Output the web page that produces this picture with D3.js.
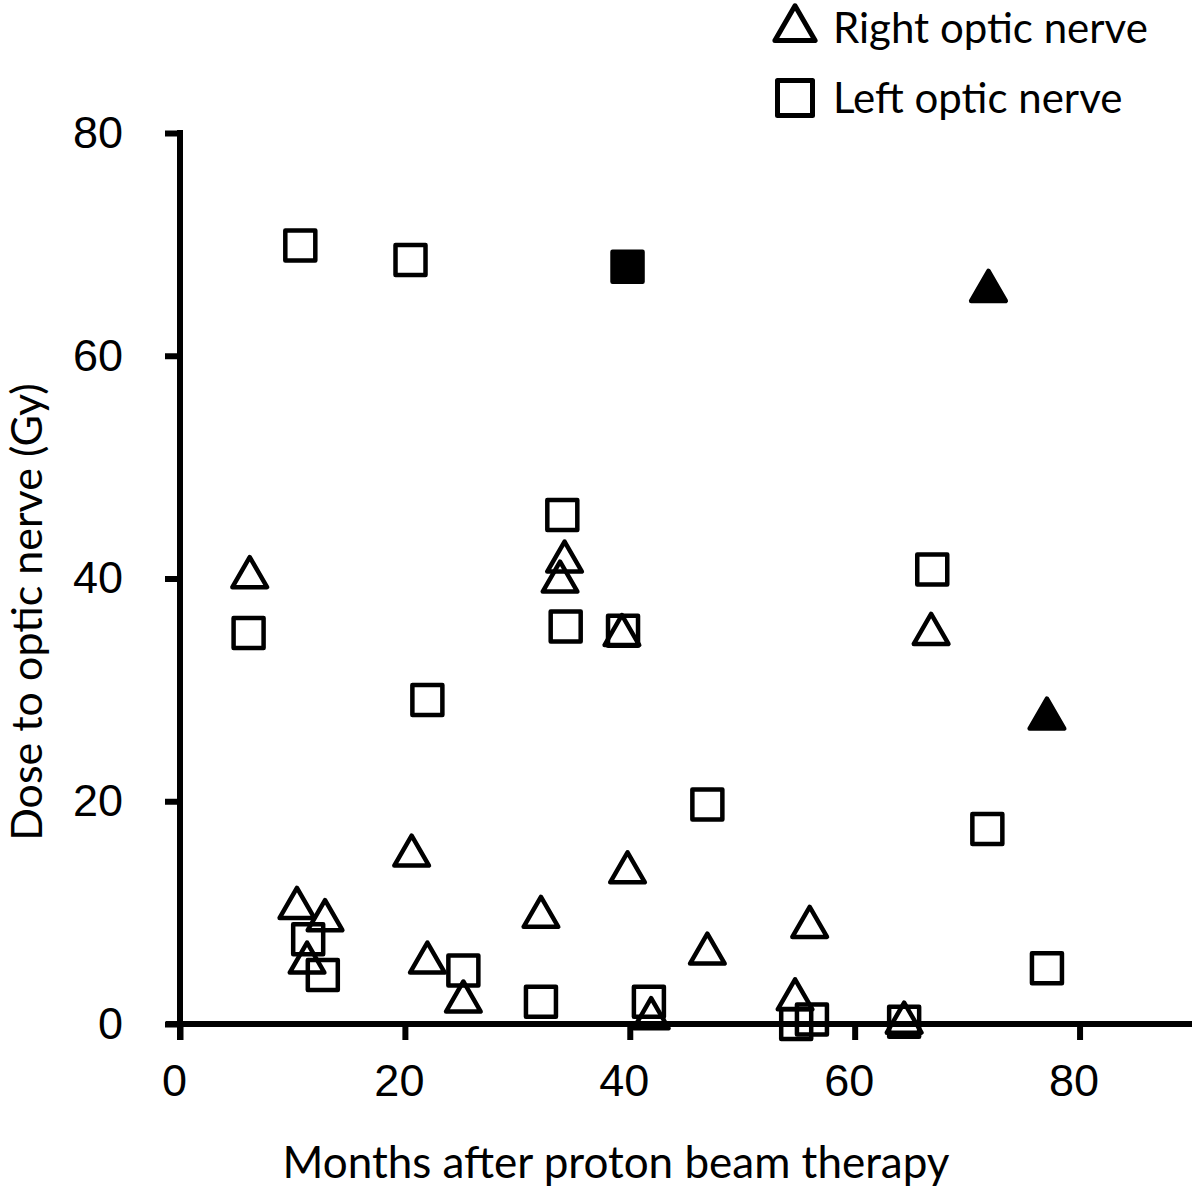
<!DOCTYPE html>
<html>
<head>
<meta charset="utf-8">
<script src="https://cdn.jsdelivr.net/npm/d3@7"></script>
<style>
  body { margin: 0; background: #fff; }
  text { fill: #000; }
</style>
</head>
<body>
<div id="chart"></div>
<script>
// right optic nerve: [months, dose]
const rightNerve = [
  [6.2, 40.3], [10.4, 10.6], [12.9, 9.5], [11.3, 5.7], [20.6, 15.3],
  [22.0, 5.7], [25.2, 2.2], [32.1, 9.8], [34.2, 41.7], [33.8, 39.9],
  [39.3, 35.1], [39.8, 13.8], [41.9, 0.7], [46.9, 6.5], [56.0, 8.9],
  [54.7, 2.4], [64.4, 0.3], [66.8, 35.2]
];
const rightFilled = [[71.9, 66.0], [77.1, 27.6]];

// left optic nerve
const leftNerve = [
  [10.7, 69.9], [20.5, 68.6], [6.1, 35.1], [22.0, 29.1], [34.0, 45.7],
  [34.3, 35.7], [39.4, 35.3], [46.9, 19.7], [66.9, 40.8], [71.8, 17.5],
  [77.1, 5.0], [11.4, 7.6], [12.7, 4.4], [25.2, 4.8], [32.1, 2.0],
  [41.7, 2.0], [54.8, 0.0], [56.2, 0.4], [64.4, 0.2]
];
const leftFilled = [[39.8, 68.0]];

const xTicks = [0, 20, 40, 60, 80];
const yTicks = [0, 20, 40, 60, 80];

const W = 1200, H = 1194;
const svg = d3.select('#chart').append('svg').attr('width', W).attr('height', H);

const x = d3.scaleLinear().domain([0, 90]).range([180, 1192]);
const y = d3.scaleLinear().domain([0, 80]).range([1024, 133]);

const tickFont = '"Liberation Sans", Arial, sans-serif';
const labelFont = 'Lato, "Noto Sans", sans-serif';

// x axis
const xAxis = svg.append('g').attr('transform', 'translate(0,' + y(0) + ')')
  .call(d3.axisBottom(x).tickValues(xTicks).tickSize(16).tickPadding(24).tickSizeOuter(0));
xAxis.select('.domain').attr('stroke', '#000').attr('stroke-width', 6)
  .attr('d', 'M' + (x(0) - 14) + ',0H' + x(90));
xAxis.selectAll('.tick line').attr('stroke', '#000').attr('stroke-width', 6);
xAxis.selectAll('.tick text').attr('font-family', tickFont).attr('font-size', 45)
  .attr('fill', '#000').attr('dx', -6);

// y axis
const yAxis = svg.append('g').attr('transform', 'translate(' + x(0) + ',0)')
  .call(d3.axisLeft(y).tickValues(yTicks).tickSize(15).tickPadding(42).tickSizeOuter(0));
yAxis.select('.domain').attr('stroke', '#000').attr('stroke-width', 6)
  .attr('d', 'M0,' + (y(80) - 3) + 'V' + (y(0) + 16));
yAxis.selectAll('.tick line').attr('stroke', '#000').attr('stroke-width', 6);
yAxis.selectAll('.tick text').attr('font-family', tickFont).attr('font-size', 45).attr('fill', '#000');

// axis titles
svg.append('text')
  .attr('x', 616).attr('y', 1178)
  .attr('text-anchor', 'middle')
  .attr('font-family', labelFont).attr('font-size', 44)
  .text('Months after proton beam therapy');

svg.append('text')
  .attr('transform', 'translate(42,612) rotate(-90)')
  .attr('text-anchor', 'middle')
  .attr('font-family', labelFont).attr('font-size', 43)
  .text('Dose to optic nerve (Gy)');

// markers
const tri = d3.symbol().type(d3.symbolTriangle).size(520);
const sqSize = 30;

function drawTriangles(data, filled) {
  svg.append('g').selectAll('path')
    .data(data).enter().append('path')
    .attr('d', tri)
    .attr('transform', d => 'translate(' + x(d[0]) + ',' + (y(d[1]) + 2) + ')')
    .attr('fill', filled ? '#000' : 'none')
    .attr('stroke', '#000').attr('stroke-width', 4.5)
    .attr('stroke-linejoin', 'round');
}
function drawSquares(data, filled) {
  svg.append('g').selectAll('rect')
    .data(data).enter().append('rect')
    .attr('x', d => x(d[0]) - sqSize / 2)
    .attr('y', d => y(d[1]) - sqSize / 2)
    .attr('width', sqSize).attr('height', sqSize)
    .attr('fill', filled ? '#000' : 'none')
    .attr('stroke', '#000').attr('stroke-width', 4.5)
    .attr('stroke-linejoin', 'round');
}
drawTriangles(rightNerve, false);
drawTriangles(rightFilled, true);
drawSquares(leftNerve, false);
drawSquares(leftFilled, true);

// legend
const legend = svg.append('g');
legend.append('path').attr('d', d3.symbol().type(d3.symbolTriangle).size(700))
  .attr('transform', 'translate(795,29)')
  .attr('fill', 'none').attr('stroke', '#000').attr('stroke-width', 5).attr('stroke-linejoin', 'round');
legend.append('text').attr('x', 833).attr('y', 43)
  .attr('font-family', labelFont).attr('font-size', 42).text('Right optic nerve');
legend.append('rect').attr('x', 777.5).attr('y', 80.5).attr('width', 35).attr('height', 35)
  .attr('fill', 'none').attr('stroke', '#000').attr('stroke-width', 5).attr('stroke-linejoin', 'round');
legend.append('text').attr('x', 833).attr('y', 113)
  .attr('font-family', labelFont).attr('font-size', 42).text('Left optic nerve');
</script>
</body>
</html>
